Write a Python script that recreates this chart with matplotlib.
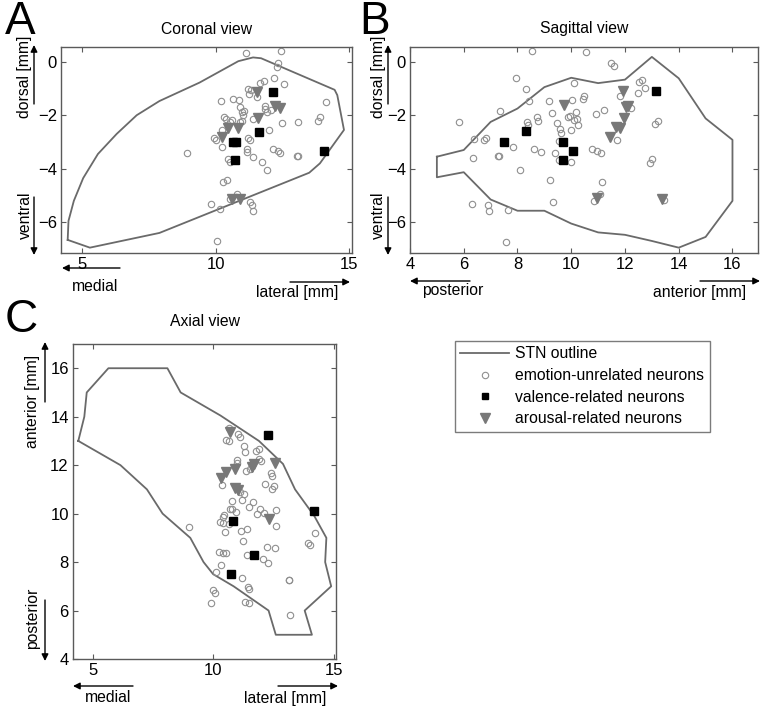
import matplotlib
matplotlib.use("Agg")
import matplotlib.pyplot as plt
import numpy as np
from matplotlib.lines import Line2D
from matplotlib.patches import FancyArrowPatch

plt.rcParams["font.family"] = ["Liberation Sans", "DejaVu Sans"]

W, H = 764, 708

# ---- A: coronal view (x = medial/lateral, y = ventral/dorsal, mm)
coronal_outline = [(4.47, -6.66), (4.5, -5.95), (4.7, -5.2), (5.05, -4.35), (5.6, -3.45),
                   (6.3, -2.7), (7.05, -2.0), (7.9, -1.47), (9.4, -0.78), (10.85, 0.02),
                   (11.4, 0.16), (11.7, 0.13), (14.45, -1.05), (14.55, -1.25), (14.8, -2.55),
                   (13.9, -3.8), (13.5, -4.15), (7.9, -6.4), (5.3, -6.95)]
coronal_unrelated = [(11.13, 0.31), (12.45, 0.39), (12.33, -0.05), (12.28, -0.2), (12.19, -0.62),
                     (12.54, -0.83), (11.66, -0.8), (11.81, -0.73), (11.23, -1.02), (11.33, -1.06),
                     (11.25, -1.2), (11.54, -1.33), (10.2, -1.48), (10.66, -1.39), (10.88, -1.43),
                     (10.91, -1.7), (10.98, -1.89), (11.08, -1.86), (11.04, -1.98), (11.83, -1.66),
                     (11.85, -1.76), (12.06, -1.79), (11.94, -1.89), (10.33, -2.07), (10.38, -2.15),
                     (10.63, -2.17), (10.54, -2.26), (10.91, -2.26), (10.98, -2.2), (11.41, -2.14),
                     (12.5, -2.3), (13.08, -2.27), (13.83, -2.2), (13.91, -2.05), (14.13, -1.49),
                     (10.25, -2.57), (12.0, -2.57), (9.95, -2.84), (10.0, -2.92), (11.23, -2.86),
                     (11.29, -2.91), (10.23, -3.17), (11.16, -3.25), (11.16, -3.38), (11.38, -3.57),
                     (11.74, -3.73), (12.14, -3.25), (12.33, -3.32), (12.41, -3.42), (13.04, -3.54),
                     (13.08, -3.53), (8.94, -3.4), (10.45, -3.63), (10.54, -3.75), (11.94, -4.04),
                     (10.29, -4.5), (10.41, -4.41), (10.79, -4.96), (9.83, -5.3), (10.16, -5.52),
                     (11.29, -5.24), (11.35, -5.37), (11.38, -5.58), (10.54, -5.12), (10.06, -6.71)]
coronal_valence = [(12.16, -1.12), (11.61, -2.61), (10.64, -3.01), (10.76, -3.01), (10.73, -3.66),
                   (14.04, -3.32)]
coronal_arousal = [(11.55, -1.15), (12.23, -1.64), (12.41, -1.74), (11.6, -2.11), (10.45, -2.47),
                   (10.85, -2.47), (10.25, -2.82), (10.6, -5.12), (10.91, -5.12)]

# ---- B: sagittal view (x = posterior/anterior, y = ventral/dorsal, mm)
sagittal_outline = [(5, -3.55), (6, -3.3), (7, -2.25), (8, -1.75), (9, -0.95), (10, -0.6),
                    (11, -0.8), (12, -0.67), (13, 0.18), (14, -0.62), (15, -2.12), (16, -2.92),
                    (16, -5.2), (15, -6.55), (14, -6.95), (13, -6.7), (12, -6.47), (11, -6.38),
                    (10, -6.05), (9, -5.57), (8, -5.57), (7, -5.15), (6, -4.13), (5, -4.32)]
sagittal_unrelated = [(8.54, 0.41), (7.96, -0.61), (8.31, -1.02), (8.41, -1.45), (7.34, -1.86),
                      (5.83, -2.26), (8.35, -2.24), (8.38, -2.36), (8.72, -2.05), (8.76, -2.2),
                      (9.18, -1.48), (9.27, -1.93), (9.46, -2.3), (9.58, -2.51), (9.61, -2.67),
                      (9.89, -2.07), (9.95, -2.02), (6.38, -2.88), (6.81, -2.84), (6.75, -2.94),
                      (7.27, -3.53), (7.32, -3.54), (6.34, -3.59), (7.83, -3.17), (8.62, -3.25),
                      (8.87, -3.38), (8.11, -4.04), (9.56, -2.97), (9.4, -3.42), (9.55, -3.69),
                      (9.98, -3.73), (9.21, -4.41), (9.31, -5.24), (6.3, -5.33), (6.9, -5.34),
                      (6.94, -5.59), (7.64, -5.53), (7.58, -6.73), (10.54, 0.35), (11.47, -0.05),
                      (11.58, -0.15), (10.11, -0.8), (10.47, -1.27), (10.44, -1.39), (10.04, -1.43),
                      (10.17, -1.89), (10.22, -2.14), (10.11, -2.17), (10.26, -2.35), (9.99, -2.57),
                      (10.91, -1.97), (11.21, -1.79), (11.8, -1.3), (12.54, -0.77), (12.63, -0.68),
                      (12.75, -0.98), (12.5, -1.17), (12.23, -1.73), (11.71, -2.92), (10.78, -3.25),
                      (10.96, -3.34), (11.1, -3.42), (13.11, -2.32), (13.24, -2.22), (12.99, -3.63),
                      (12.94, -3.78), (11.15, -4.5), (11.06, -4.96), (10.85, -5.22), (13.46, -5.18)]
sagittal_valence = [(7.51, -3.01), (8.31, -2.6), (9.7, -3.01), (9.68, -3.66), (10.07, -3.32),
                    (13.15, -1.11)]
sagittal_arousal = [(9.73, -1.62), (11.92, -1.11), (12.02, -1.7), (12.11, -1.67), (11.96, -2.1),
                    (11.67, -2.45), (11.83, -2.48), (11.43, -2.82), (10.96, -5.08), (13.36, -5.14)]

# ---- C: axial view (x = medial/lateral, y = posterior/anterior, mm)
axial_outline = [(4.4, 13.0), (4.65, 14.0), (4.75, 15.0), (5.65, 16.0), (8.1, 16.0), (8.65, 15.0),
                 (10.3, 14.05), (11.9, 13.0), (12.9, 12.05), (13.4, 11.0), (14.2, 9.9),
                 (14.7, 9.0), (14.65, 8.0), (14.9, 7.0), (13.8, 6.0), (14.1, 5.0), (12.6, 5.0),
                 (12.3, 6.0), (10.85, 7.0), (10.0, 7.5), (9.6, 8.0), (9.05, 9.0), (7.9, 10.0),
                 (7.25, 11.0), (6.15, 12.0)]
axial_unrelated = [(10.64, 13.55), (11.05, 13.27), (11.12, 13.16), (10.52, 13.03), (10.66, 12.99),
                   (11.29, 12.78), (11.33, 12.55), (11.78, 12.59), (11.92, 12.66), (11.92, 12.27),
                   (11.99, 12.18), (11.01, 12.23), (10.98, 12.07), (10.36, 11.17), (11.37, 11.76),
                   (11.51, 11.86), (12.39, 11.66), (12.44, 11.55), (12.16, 11.24), (12.51, 11.15),
                   (12.46, 11.0), (11.12, 10.9), (11.26, 10.83), (10.77, 10.52), (10.77, 10.21),
                   (10.7, 10.17), (10.95, 10.08), (11.19, 10.58), (11.65, 10.46), (11.49, 10.26),
                   (11.95, 10.21), (12.09, 10.04), (11.84, 9.98), (12.62, 10.15), (12.62, 9.49),
                   (10.43, 9.94), (10.39, 9.87), (10.29, 9.67), (10.4, 9.6), (10.64, 9.57),
                   (10.5, 9.25), (11.15, 9.28), (11.4, 9.35), (11.22, 8.88), (9.0, 9.46),
                   (14.24, 9.19), (13.93, 8.77), (14.0, 8.71), (10.25, 8.42), (10.4, 8.39),
                   (10.54, 8.36), (11.4, 8.29), (12.23, 8.64), (12.57, 8.57), (12.06, 8.12),
                   (12.26, 7.95), (10.32, 7.86), (10.12, 7.57), (11.19, 7.33), (11.44, 6.99),
                   (11.47, 6.9), (13.13, 7.27), (13.16, 7.26), (10.01, 6.83), (10.08, 6.74),
                   (9.9, 6.31), (11.33, 6.37), (11.47, 6.33), (13.2, 5.83)]
axial_valence = [(12.26, 13.23), (14.17, 10.1), (10.81, 9.71), (11.7, 8.31), (10.73, 7.5)]
axial_arousal = [(10.68, 13.37), (10.91, 11.83), (10.52, 11.7), (10.32, 11.49), (11.6, 11.93),
                 (11.7, 12.03), (12.55, 12.07), (10.91, 11.04), (11.05, 10.97), (12.3, 9.76)]

legend_labels = ["STN outline", "emotion-unrelated neurons", "valence-related neurons",
                 "arousal-related neurons"]

OUTLINE_COLOR = "#6a6a6a"
CIRCLE_COLOR = "#8f8f8f"
TRI_COLOR = "#787878"
SPINE_COLOR = "#5a5a5a"
FS = 11.3


def fx(px):
    return px / W


def fy(py):
    return 1 - py / H


def box(left, top, right, bottom):
    return [left / W, 1 - bottom / H, (right - left) / W, (bottom - top) / H]


def arrow(fig, x0, y0, x1, y1):
    fig.add_artist(FancyArrowPatch((fx(x0), fy(y0)), (fx(x1), fy(y1)), transform=fig.transFigure,
                                   arrowstyle="-|>", mutation_scale=10, lw=1.0, color="black",
                                   shrinkA=0, shrinkB=0))


def label(fig, px, py, text, rot=0, size=FS):
    fig.text(fx(px), fy(py), text, ha="center", va="center", rotation=rot, fontsize=size)


def draw_panel(ax, outline, unrelated, valence, arousal):
    o = np.array(outline + outline[:1])
    ax.plot(o[:, 0], o[:, 1], color=OUTLINE_COLOR, lw=1.3)
    u = np.array(unrelated)
    ax.plot(u[:, 0], u[:, 1], "o", mfc="none", mec=CIRCLE_COLOR, ms=4.6, mew=0.8)
    a = np.array(arousal)
    ax.plot(a[:, 0], a[:, 1], "v", color=TRI_COLOR, ms=7.5)
    v = np.array(valence)
    ax.plot(v[:, 0], v[:, 1], "s", color="black", ms=5.5)
    ax.tick_params(direction="in", top=True, right=True, length=3.5, width=0.8,
                   labelsize=12, pad=3, color=SPINE_COLOR)
    for s in ax.spines.values():
        s.set_color(SPINE_COLOR)
        s.set_linewidth(1.0)


fig = plt.figure(figsize=(W / 100, H / 100), dpi=100)

ax_a = fig.add_axes(box(61, 47, 352, 253))
draw_panel(ax_a, coronal_outline, coronal_unrelated, coronal_valence, coronal_arousal)
ax_a.set_xlim(4.22, 15.1)
ax_a.set_ylim(-7.15, 0.55)
ax_a.set_xticks([5, 10, 15])
ax_a.set_yticks([0, -2, -4, -6])
label(fig, 207, 30, "Coronal view")

ax_b = fig.add_axes(box(410, 47, 758, 253))
draw_panel(ax_b, sagittal_outline, sagittal_unrelated, sagittal_valence, sagittal_arousal)
ax_b.set_xlim(4, 16.95)
ax_b.set_ylim(-7.15, 0.55)
ax_b.set_xticks([4, 6, 8, 10, 12, 14, 16])
ax_b.set_yticks([0, -2, -4, -6])
label(fig, 584, 28, "Sagittal view")

ax_c = fig.add_axes(box(73, 344, 336, 659))
draw_panel(ax_c, axial_outline, axial_unrelated, axial_valence, axial_arousal)
ax_c.set_xlim(4.18, 15.1)
ax_c.set_ylim(4, 17)
ax_c.set_xticks([5, 10, 15])
ax_c.set_yticks([4, 6, 8, 10, 12, 14, 16])
label(fig, 205, 322, "Axial view")

# direction labels and arrows
label(fig, 25, 77, "dorsal [mm]", rot=90)
arrow(fig, 34, 104, 34, 45)
label(fig, 25, 215, "ventral", rot=90)
arrow(fig, 34, 197, 34, 255)
arrow(fig, 120, 268, 62, 268)
label(fig, 95, 287, "medial")
arrow(fig, 290, 282, 350, 282)
label(fig, 297, 293, "lateral [mm]")

label(fig, 378, 77, "dorsal [mm]", rot=90)
arrow(fig, 388, 104, 388, 45)
label(fig, 378, 215, "ventral", rot=90)
arrow(fig, 388, 197, 388, 255)
arrow(fig, 470, 281, 410, 281)
label(fig, 453, 291, "posterior")
arrow(fig, 700, 281, 760, 281)
label(fig, 700, 293, "anterior [mm]")

label(fig, 33, 401, "anterior [mm]", rot=90)
arrow(fig, 45, 402, 45, 342)
label(fig, 33, 618, "posterior", rot=90)
arrow(fig, 45, 600, 45, 661)
arrow(fig, 133, 686, 73, 686)
label(fig, 108, 697, "medial")
arrow(fig, 278, 686, 338, 686)
label(fig, 285, 698, "lateral [mm]")

# panel letters
label(fig, 20, 22, "A", size=33)
label(fig, 375, 22, "B", size=33)
label(fig, 21, 320, "C", size=33)

handles = [
    Line2D([], [], color=OUTLINE_COLOR, lw=1.3),
    Line2D([], [], ls="none", marker="o", mfc="none", mec=CIRCLE_COLOR, ms=4.6, mew=0.8),
    Line2D([], [], ls="none", marker="s", color="black", ms=5),
    Line2D([], [], ls="none", marker="v", color=TRI_COLOR, ms=6.5),
]
leg = fig.legend(handles, legend_labels, loc="upper left", bbox_to_anchor=(fx(455), fy(341)),
                 fontsize=FS, frameon=True, fancybox=False, handlelength=3.1, labelspacing=0.42,
                 borderpad=0.35, handletextpad=0.4, borderaxespad=0)
leg.get_frame().set_edgecolor(SPINE_COLOR)
leg.get_frame().set_linewidth(1.0)

fig.savefig("out.png", dpi=100)
